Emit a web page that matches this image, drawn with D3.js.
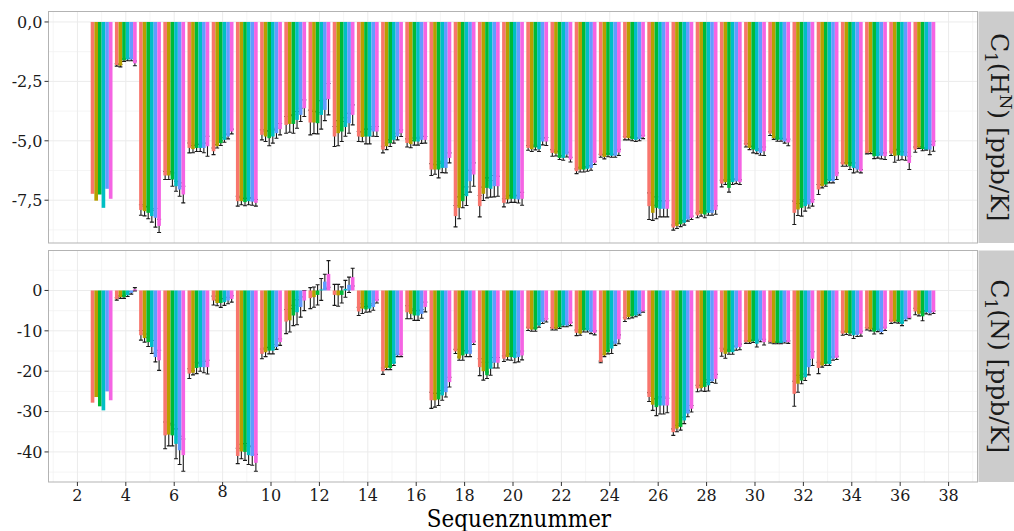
<!DOCTYPE html>
<html><head><meta charset="utf-8">
<script src="https://cdn.jsdelivr.net/npm/d3@7"></script>
<style>
body{margin:0;background:#fff}
svg{display:block}
text{font-family:"DejaVu Serif",serif}
</style>
</head><body>
<svg id="c" width="1014" height="531"></svg>
<script>
// ---------- data ----------
const residues = [3,4,5,6,7,8,9,10,11,12,13,14,15,16,17,18,19,20,21,22,23,24,25,26,27,28,29,30,31,32,33,34,35,36,37];
const seriesColors = ["#F8766D","#B79F00","#00BA38","#00BFC4","#619CFF","#F564E3"];
const xTicks = [2,4,6,8,10,12,14,16,18,20,22,24,26,28,30,32,34,36,38];
const hnTicks = [0,-2.5,-5,-7.5];
const nTicks = [0,-10,-20,-30,-40];
const xLabel = "Sequenznummer";

// C1(H^N) [ppb/K]
const hn1 = [-7.23,-1.81,-7.91,-6.46,-5.30,-5.44,-7.54,-4.75,-4.33,-4.23,-4.82,-4.82,-5.37,-5.09,-6.21,-8.17,-7.75,-7.61,-5.30,-5.51,-6.28,-5.63,-4.89,-7.75,-8.65,-8.14,-6.80,-5.19,-4.70,-8.03,-7.05,-6.00,-5.51,-5.54,-5.37];
const hn2 = [-7.52,-1.84,-7.96,-6.46,-5.35,-5.23,-7.54,-4.82,-4.29,-4.23,-4.68,-4.84,-5.23,-5.14,-6.21,-7.82,-7.23,-7.47,-5.35,-5.54,-6.21,-5.68,-4.89,-8.03,-8.58,-8.07,-6.74,-5.30,-4.89,-7.89,-6.91,-6.00,-5.49,-5.63,-5.28];
const hn3 = [-7.26,-1.61,-8.03,-6.63,-5.30,-5.10,-7.58,-4.89,-4.29,-4.26,-4.61,-4.82,-5.10,-5.03,-6.21,-7.54,-6.98,-7.44,-5.28,-5.72,-6.21,-5.61,-4.93,-7.82,-8.51,-8.10,-6.98,-5.37,-4.96,-7.82,-6.84,-6.07,-5.65,-5.61,-5.35];
const hn4 = [-7.82,-1.58,-8.17,-6.91,-5.30,-4.96,-7.54,-4.82,-4.12,-3.91,-4.42,-4.82,-4.96,-5.03,-6.14,-7.33,-7.02,-7.44,-5.35,-5.72,-6.18,-5.63,-4.96,-7.86,-8.45,-8.03,-6.74,-5.44,-4.96,-7.75,-6.70,-6.14,-5.65,-5.63,-5.37];
const hn5 = [-7.02,-1.58,-8.24,-7.05,-5.30,-4.82,-7.56,-4.68,-3.91,-3.70,-4.26,-4.61,-4.82,-4.96,-6.14,-6.70,-6.91,-7.47,-5.03,-5.58,-6.14,-5.63,-4.93,-7.86,-8.31,-8.03,-6.70,-5.51,-5.03,-7.68,-6.70,-6.21,-5.63,-5.65,-5.37];
const hn6 = [-7.44,-1.74,-8.58,-7.26,-5.23,-4.61,-7.61,-4.51,-3.63,-3.25,-3.91,-4.61,-4.68,-4.96,-5.72,-6.42,-6.91,-7.44,-5.03,-5.79,-5.93,-5.49,-4.84,-7.86,-8.24,-7.91,-6.74,-5.44,-5.07,-7.61,-6.49,-6.28,-5.65,-5.93,-5.23];
const hnErr1 = [0,0.05,0.22,0.17,0.21,0.14,0.21,0.21,0.35,0.52,0.42,0.21,0.14,0.17,0.25,0.45,0.45,0.17,0.10,0.14,0.10,0.06,0.07,0.56,0.11,0.10,0.14,0.07,0.08,0.49,0.21,0.07,0.04,0.08,0.11];
const hnErr2 = [0,0.05,0.20,0.17,0.15,0.07,0.15,0.21,0.35,0.47,0.53,0.20,0.14,0.15,0.20,0.46,0.28,0.15,0.10,0.10,0.10,0.08,0.07,0.32,0.11,0.10,0.10,0.07,0.05,0.25,0.07,0.07,0.05,0.27,0.04];
const hnErr3 = [0,0.05,0.25,0.28,0.15,0.10,0.15,0.32,0.39,0.45,0.42,0.31,0.14,0.15,0.35,0.28,0.42,0.15,0.10,0.07,0.10,0.06,0.07,0.46,0.10,0.14,0.18,0.14,0.06,0.35,0.07,0.14,0.10,0.21,0.07];
const hnErr4 = [0,0.05,0.25,0.21,0.15,0.10,0.15,0.28,0.35,0.60,0.39,0.31,0.14,0.15,0.20,0.39,0.35,0.15,0.10,0.10,0.10,0.06,0.07,0.34,0.10,0.10,0.10,0.10,0.06,0.21,0.07,0.21,0.08,0.17,0.03];
const hnErr5 = [0,0.05,0.39,0.28,0.20,0.10,0.15,0.21,0.28,0.45,0.42,0.20,0.14,0.15,0.21,0.46,0.45,0.15,0.14,0.10,0.10,0.06,0.07,0.34,0.07,0.10,0.10,0.10,0.07,0.15,0.07,0.10,0.13,0.17,0.21];
const hnErr6 = [0,0.10,0.28,0.35,0.42,0.10,0.14,0.24,0.35,0.66,0.42,0.21,0.14,0.14,0.21,0.49,0.42,0.27,0.17,0.10,0.07,0.13,0.07,0.34,0.07,0.18,0.10,0.18,0.14,0.14,0.14,0.07,0.14,0.28,0.21];

// C1(N) [ppb/K]
const n1 = [-27.8,-2.1,-11.1,-35.9,-20.6,-2.5,-41.0,-15.7,-7.7,-1.9,-1.1,-5.2,-20.0,-5.4,-27.2,-15.1,-19.0,-16.9,-9.5,-9.5,-10.5,-17.7,-7.2,-26.4,-35.1,-24.3,-15.3,-12.8,-12.8,-25.6,-19.2,-10.7,-9.5,-7.8,-5.2];
const n2 = [-26.4,-1.65,-11.8,-35.7,-20.4,-3.1,-39.9,-15.3,-7.4,-1.65,-1.2,-4.5,-19.2,-5.8,-27.2,-16.9,-20.0,-16.5,-9.7,-9.5,-10.7,-16.1,-6.6,-28.3,-34.2,-24.2,-15.7,-12.8,-13.0,-23.1,-18.6,-10.5,-9.7,-7.7,-5.8];
const n3 = [-28.7,-1.65,-12.8,-35.9,-19.2,-3.1,-40.0,-14.9,-6.2,-1.1,-1.1,-4.7,-19.2,-6.2,-27.0,-16.1,-21.0,-16.5,-9.7,-9.1,-9.9,-15.3,-6.4,-28.9,-33.8,-23.9,-15.3,-12.6,-13.0,-22.3,-18.2,-10.7,-10.2,-7.8,-6.4];
const n4 = [-29.7,-1.2,-14.0,-38.0,-19.0,-2.9,-40.8,-14.9,-5.4,0.25,0.4,-4.5,-18.2,-6.2,-26.0,-15.7,-19.4,-16.7,-8.7,-8.7,-9.9,-14.4,-6.2,-28.5,-32.2,-23.5,-15.3,-13.2,-13.0,-21.5,-18.2,-11.1,-9.9,-8.3,-5.4];
const n5 = [-25.0,-0.6,-16.5,-39.6,-19.0,-2.5,-41.0,-14.0,-4.1,2.2,1.4,-4.1,-16.1,-5.8,-25.2,-15.7,-17.9,-16.5,-7.8,-8.7,-10.3,-13.2,-5.8,-28.5,-30.5,-22.5,-14.3,-12.4,-12.8,-19.0,-16.9,-11.0,-10.3,-7.2,-5.6];
const n6 = [-27.2,0.3,-17.3,-40.8,-19.0,-2.1,-42.7,-12.8,-2.5,4.1,3.3,-2.7,-16.1,-4.1,-22.7,-13.0,-17.9,-16.1,-7.4,-8.3,-10.5,-12.1,-5.2,-28.5,-29.3,-21.9,-14.0,-12.8,-12.8,-16.9,-16.7,-10.7,-9.5,-6.8,-5.4];
const nErr1 = [0,0.3,1.2,3.3,1.2,1.1,1.9,1.2,3.0,2.6,2.6,1.0,0.8,1.6,2.0,0.5,2.1,0.7,0.4,0.3,0.7,0.2,0.5,1.1,0.8,0.8,1.0,0.3,0.2,3.1,1.4,0.4,0.3,0.4,0.8];
const nErr2 = [0,0.3,1.0,2.8,0.5,0.7,1.8,1.1,2.9,2.5,2.7,1.2,0.4,1.2,1.7,0.4,2.2,0.7,0.4,0.3,0.4,0.3,0.4,1.4,0.8,0.7,1.1,0.3,0.2,2.1,0.4,0.4,0.3,0.3,0.5];
const nErr3 = [0,0.3,1.1,2.6,1.4,1.1,2.1,0.8,2.5,2.5,2.0,0.7,0.4,1.2,1.5,1.2,0.8,0.8,0.4,0.3,0.4,0.4,0.4,2.1,0.8,1.1,0.5,0.3,0.2,0.8,0.4,0.4,0.6,0.3,1.1];
const nErr4 = [0,0.3,1.6,3.7,1.0,0.8,2.3,0.8,3.1,2.7,2.1,0.8,0.4,1.2,1.2,0.7,1.6,1.2,0.4,0.3,0.4,1.2,0.3,2.1,0.8,1.4,0.5,0.8,0.2,0.8,0.4,0.8,0.3,0.4,0.4];
const nErr5 = [0,0.3,1.2,3.5,1.4,0.8,2.3,0.6,2.5,1.8,1.9,0.8,0.3,1.1,1.2,0.7,1.3,1.2,0.4,0.3,0.4,0.4,0.3,2.1,0.8,0.3,0.5,0.3,0.2,1.9,0.4,0.4,0.4,0.3,0.4];
const nErr6 = [0,0.4,2.5,4.0,1.7,0.8,2.1,0.8,2.5,3.3,2.2,0.4,0.3,1.2,1.2,0.4,1.3,1.1,0.4,0.4,0.5,1.1,0.2,1.8,0.8,1.1,0.7,0.7,0.3,1.7,0.4,0.6,0.4,0.2,0.3];

// ---------- drawing ----------
const svg = d3.select("#c");
const L = 48.5, R = 977.5;
const x = d3.scaleLinear().domain([0.805, 39.195]).range([L, R]);
const dodge = d3.scaleBand().domain(d3.range(6)).range([-0.45, 0.45]);
const bw = x(dodge.bandwidth()) - x(0);
const whisk = 2.0;

const panels = [
  {vals:[hn1,hn2,hn3,hn4,hn5,hn6], errs:[hnErr1,hnErr2,hnErr3,hnErr4,hnErr5,hnErr6],
   top:11.5, bottom:243, domain:[-9.30,0.44], ticks:hnTicks, minor:[-1.25,-3.75,-6.25,-8.75],
   fmt:d=>d.toFixed(1).replace(".",","), strip:"hn"},
  {vals:[n1,n2,n3,n4,n5,n6], errs:[nErr1,nErr2,nErr3,nErr4,nErr5,nErr6],
   top:250.5, bottom:482, domain:[-47.45,9.9], ticks:nTicks, minor:[5,-5,-15,-25,-35,-45],
   fmt:d=>String(d), strip:"n"}
];
const xMinor = d3.range(1, 40, 2);

panels.forEach(p => {
  const y = d3.scaleLinear().domain(p.domain).range([p.bottom, p.top]);
  const g = svg.append("g");
  g.append("rect").attr("x",L).attr("y",p.top).attr("width",R-L).attr("height",p.bottom-p.top).attr("fill","#fff");
  // minor grid
  g.selectAll(".mx").data(xMinor).enter().append("line")
    .attr("x1",d=>x(d)).attr("x2",d=>x(d)).attr("y1",p.top).attr("y2",p.bottom)
    .attr("stroke","#f3f3f3").attr("stroke-width",0.8);
  g.selectAll(".my").data(p.minor.filter(v=>v>p.domain[0]&&v<p.domain[1])).enter().append("line")
    .attr("x1",L).attr("x2",R).attr("y1",d=>y(d)).attr("y2",d=>y(d))
    .attr("stroke","#f3f3f3").attr("stroke-width",0.8);
  // major grid
  g.selectAll(".Mx").data(xTicks).enter().append("line")
    .attr("x1",d=>x(d)).attr("x2",d=>x(d)).attr("y1",p.top).attr("y2",p.bottom)
    .attr("stroke","#ebebeb").attr("stroke-width",1);
  g.selectAll(".My").data(p.ticks).enter().append("line")
    .attr("x1",L).attr("x2",R).attr("y1",d=>y(d)).attr("y2",d=>y(d))
    .attr("stroke","#ebebeb").attr("stroke-width",1);

  // records
  const recs = [];
  p.vals.forEach((arr, s) => arr.forEach((v, i) => recs.push({r:residues[i], s, v, e:p.errs[s][i]})));
  const cx = d => x(d.r + dodge(d.s) + dodge.bandwidth()/2);

  // error bars (drawn beneath bars)
  const eb = g.append("g").attr("stroke","#1a1a1a").attr("stroke-width",1.1).attr("fill","none");
  recs.filter(d=>d.e>0).forEach(d => {
    const c = cx(d), y1 = y(d.v - d.e), y2 = y(d.v + d.e);
    eb.append("path").attr("d",`M${c-whisk},${y1}H${c+whisk}M${c},${y1}V${y2}M${c-whisk},${y2}H${c+whisk}`);
  });
  // bars
  g.append("g").selectAll("rect").data(recs).enter().append("rect")
    .attr("x",d=>x(d.r + dodge(d.s)))
    .attr("width",bw)
    .attr("y",d=>y(Math.max(0,d.v)))
    .attr("height",d=>Math.abs(y(d.v)-y(0)))
    .attr("fill",d=>seriesColors[d.s]);

  // border
  g.append("rect").attr("x",L).attr("y",p.top).attr("width",R-L).attr("height",p.bottom-p.top)
    .attr("fill","none").attr("stroke","#b3b3b3").attr("stroke-width",1);

  // y axis ticks + labels
  g.selectAll(".yt").data(p.ticks).enter().append("line")
    .attr("x1",L-4).attr("x2",L).attr("y1",d=>y(d)).attr("y2",d=>y(d))
    .attr("stroke","#333").attr("stroke-width",1);
  g.selectAll(".yl").data(p.ticks).enter().append("text")
    .attr("x",L-6).attr("y",d=>y(d)).attr("dy","0.36em")
    .attr("text-anchor","end").attr("font-size",16).attr("fill","#1a1a1a")
    .text(p.fmt);

  // strip
  const sx = R + 1, sw = 40;
  g.append("rect").attr("x",sx).attr("y",p.top).attr("width",sw).attr("height",p.bottom-p.top).attr("fill","#cccccc");
  const t = g.append("text")
    .attr("transform",`translate(${sx+21},${(p.top+p.bottom)/2}) rotate(90)`)
    .attr("text-anchor","middle").attr("dy","0.36em").attr("font-size",25).attr("fill","#1a1a1a");
  t.append("tspan").text("C");
  t.append("tspan").attr("font-size",17).attr("dy",6).text("1");
  if (p.strip === "hn") {
    t.append("tspan").attr("dy",-6).text("(H");
    t.append("tspan").attr("font-size",17).attr("dy",-9).text("N");
    t.append("tspan").attr("dy",9).text(") [ppb/K]");
  } else {
    t.append("tspan").attr("dy",-6).text("(N) [ppb/K]");
  }

  p.y = y;
});

// x axis (bottom panel)
const bot = panels[1].bottom;
svg.append("g").selectAll("line").data(xTicks).enter().append("line")
  .attr("x1",d=>x(d)).attr("x2",d=>x(d)).attr("y1",bot).attr("y2",bot+4)
  .attr("stroke","#333").attr("stroke-width",1);
svg.append("g").selectAll("text").data(xTicks).enter().append("text")
  .attr("x",d=>x(d)).attr("y",d=> d===8 ? bot+15 : bot+19)
  .attr("text-anchor","middle").attr("font-size",16).attr("fill","#1a1a1a")
  .text(d=>d);
svg.append("text").attr("transform","translate(519,527) scale(0.86,1)").attr("text-anchor","middle")
  .attr("font-size",25).attr("fill","#000").text(xLabel);
</script>
</body></html>
